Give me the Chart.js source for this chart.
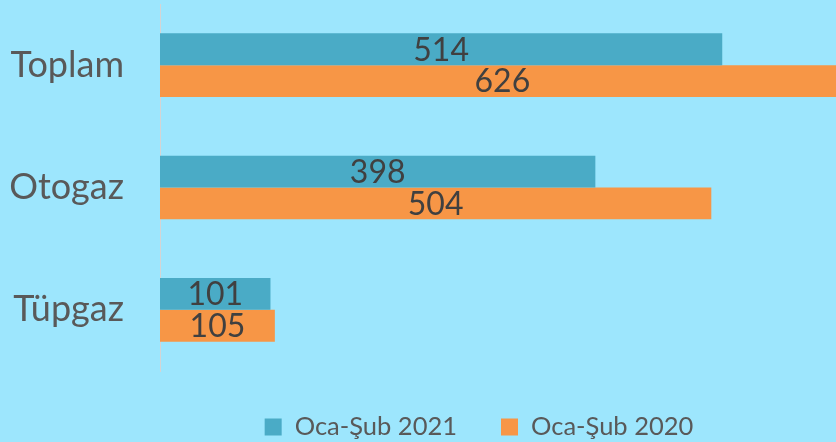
<!DOCTYPE html>
<html lang="tr">
<head>
<meta charset="utf-8">
<title>Oca-Şub 2021 / 2020</title>
<script src="https://cdn.jsdelivr.net/npm/chart.js@4"></script>
<style>
  html, body { margin: 0; padding: 0; background: #9de6fd; overflow: hidden; }
  #wrap { width: 836px; height: 442px; }
</style>
</head>
<body>
<div id="wrap"><canvas id="chart" width="836" height="442"></canvas></div>
<script>
const categories = ['Toplam', 'Otogaz', 'Tüpgaz']
const seriesNames = ['Oca-Şub 2021', 'Oca-Şub 2020']
const values2021 = [514, 398, 101]
const values2020 = [626, 504, 105]

const colors = {
  bg: '#9de6fd',
  blue: '#4aabc6',
  orange: '#f79646',
  axis: '#d4d4d4',
  label: '#595959',
  value: '#404040'
}
const FONT = 'Lato, "Open Sans", sans-serif'

// paints the canvas background
const background = {
  id: 'background',
  beforeDraw(chart) {
    const { ctx, width, height } = chart
    ctx.save()
    ctx.fillStyle = colors.bg
    ctx.fillRect(0, 0, width, height)
    ctx.restore()
  }
}

// value centered inside each bar
const barValues = {
  id: 'barValues',
  afterDatasetsDraw(chart) {
    const { ctx } = chart
    ctx.save()
    ctx.font = `32px ${FONT}`
    ctx.fillStyle = colors.value
    ctx.textAlign = 'center'
    ctx.textBaseline = 'middle'
    chart.data.datasets.forEach((ds, i) => {
      chart.getDatasetMeta(i).data.forEach((bar, j) => {
        const cx = (bar.x + bar.base) / 2
        ctx.fillText(String(ds.data[j]), cx, bar.y + 1)
      })
    })
    ctx.restore()
  }
}

// legend row under the plot
const bottomLegend = {
  id: 'bottomLegend',
  afterDraw(chart) {
    const { ctx } = chart
    const box = 17, gap = 13, itemGap = 44
    const centerX = 479, y = 427
    ctx.save()
    ctx.font = `25.5px ${FONT}`
    ctx.textBaseline = 'middle'
    const items = chart.data.datasets.map(ds => ({
      text: ds.label, color: ds.backgroundColor, w: ctx.measureText(ds.label).width
    }))
    const total = items.reduce((s, it) => s + box + gap + it.w, 0) + itemGap * (items.length - 1)
    let x = centerX - total / 2
    items.forEach(it => {
      ctx.fillStyle = it.color
      ctx.fillRect(x, y - box / 2, box, box)
      ctx.fillStyle = colors.label
      ctx.fillText(it.text, x + box + gap, y)
      x += box + gap + it.w + itemGap
    })
    ctx.restore()
  }
}

new Chart(document.getElementById('chart'), {
  type: 'bar',
  data: {
    labels: categories,
    datasets: [
      { label: seriesNames[0], data: values2021, backgroundColor: colors.blue },
      { label: seriesNames[1], data: values2020, backgroundColor: colors.orange }
    ]
  },
  options: {
    indexAxis: 'y',
    responsive: false,
    animation: false,
    categoryPercentage: 0.52,
    barPercentage: 1.0,
    layout: { padding: { top: 4, bottom: 71, right: 0, left: 0 } },
    plugins: {
      legend: { display: false },
      tooltip: { enabled: false }
    },
    scales: {
      x: {
        display: false,
        min: 0,
        max: 618
      },
      y: {
        afterFit: (scale) => {
          scale.width = 160
          scale.paddingTop = 0
          scale.paddingBottom = 0
        },
        grid: { display: false, drawTicks: false },
        border: { display: true, color: colors.axis, width: 1 },
        ticks: {
          padding: 36,
          color: colors.label,
          font: { family: FONT, size: 36 }
        }
      }
    }
  },
  plugins: [background, barValues, bottomLegend]
})
</script>
</body>
</html>
